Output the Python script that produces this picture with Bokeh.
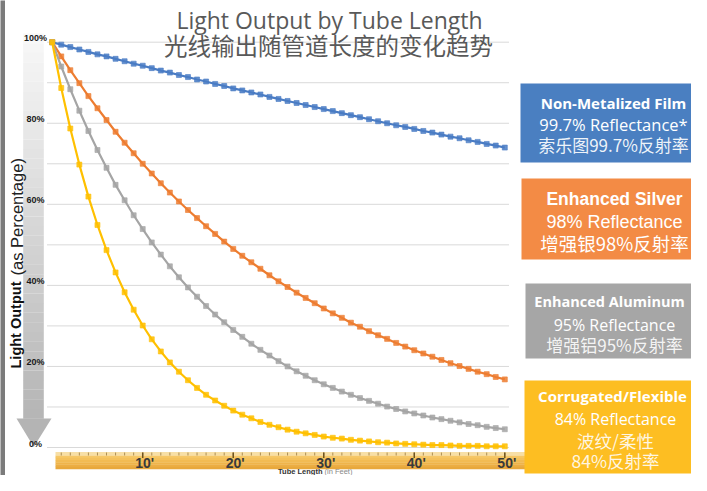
from bokeh.plotting import figure
from bokeh.models import Range1d
from bokeh.core.properties import value
from bokeh.embed import file_html
from bokeh.resources import INLINE

# ---------------- data ----------------
feet = list(range(0, 51))
non_metalized = [100, 99.4, 98.8, 98.2, 97.6, 97.0, 96.5, 95.9, 95.3, 94.7, 94.2,
                 93.6, 93.0, 92.5, 91.9, 91.4, 90.8, 90.3, 89.7, 89.2, 88.6,
                 88.1, 87.6, 87.1, 86.5, 86.0, 85.5, 85.0, 84.5, 84.0, 83.5,
                 83.0, 82.5, 82.0, 81.5, 81.0, 80.5, 80.0, 79.5, 79.1, 78.6,
                 78.1, 77.7, 77.2, 76.7, 76.3, 75.8, 75.4, 74.9, 74.5, 74.0]
enhanced_silver = [100, 96.5, 93.1, 89.9, 86.7, 83.7, 80.8, 77.9, 75.2, 72.6, 70.0,
                   67.6, 65.2, 62.9, 60.7, 58.6, 56.6, 54.6, 52.7, 50.8, 49.0,
                   47.3, 45.7, 44.1, 42.5, 41.0, 39.6, 38.2, 36.9, 35.6, 34.3,
                   33.1, 32.0, 30.8, 29.8, 28.7, 27.7, 26.8, 25.8, 24.9, 24.0,
                   23.2, 22.4, 21.6, 20.8, 20.1, 19.4, 18.7, 18.1, 17.4, 16.8]
enhanced_aluminum = [100, 94.0, 88.4, 83.1, 78.1, 73.4, 69.0, 64.8, 61.0, 57.3, 53.9,
                     50.6, 47.6, 44.7, 42.0, 39.5, 37.2, 34.9, 32.8, 30.9, 29.0,
                     27.3, 25.6, 24.1, 22.7, 21.3, 20.0, 18.8, 17.7, 16.6, 15.6,
                     14.7, 13.8, 13.0, 12.2, 11.5, 10.8, 10.1, 9.5, 8.9, 8.4,
                     7.9, 7.4, 7.0, 6.6, 6.2, 5.8, 5.5, 5.1, 4.8, 4.5]
corrugated = [100, 88.7, 78.7, 69.8, 61.9, 54.9, 48.7, 43.2, 38.3, 34.0, 30.1,
              26.7, 23.7, 21.0, 18.7, 16.6, 14.7, 13.0, 11.6, 10.3, 9.1,
              8.1, 7.2, 6.3, 5.6, 5.0, 4.4, 3.9, 3.5, 3.1, 2.7,
              2.4, 2.2, 1.9, 1.7, 1.5, 1.3, 1.2, 1.0, 0.9, 0.8,
              0.7, 0.6, 0.6, 0.5, 0.4, 0.4, 0.4, 0.3, 0.3, 0.3]

y_ticks = [0, 20, 40, 60, 80, 100]
y_tick_labels = ["0%", "20%", "40%", "60%", "80%", "100%"]
grid_values = [0, 10, 20, 30, 40, 50, 60, 70, 80, 90, 100]
x_ticks = [10, 20, 30, 40, 50]
x_tick_labels = ["10'", "20'", "30'", "40'", "50'"]
ruler_minor = list(range(1, 51))

series_names = ["Non-Metalized Film", "Enhanced Silver", "Enhanced Aluminum", "Corrugated/Flexible"]
series_colors = ["#4A7CC4", "#ED7D31", "#A5A5A5", "#FFC000"]

title_en = "Light Output by Tube Length"
title_zh = "光线输出随管道长度的变化趋势"

# ---------------- layout helpers (pixel -> data) ----------------
W, H = 691, 475
X0, XS = 51.7, 9.052   # pixel of 0 ft, pixels per ft
Y0, YS = 447.0, 4.053  # pixel of 0 %, pixels per %


def dx(px):
    return (px - X0) / XS


def dy(py):
    return (Y0 - py) / YS


p = figure(width=W, height=H, output_backend="svg", toolbar_location=None,
           x_range=Range1d(dx(0), dx(W)), y_range=Range1d(dy(H), dy(0)),
           x_axis_location=None, y_axis_location=None, min_border=0)
p.outline_line_color = None
p.grid.visible = False
p.background_fill_color = "white"
p.border_fill_color = "white"


def txt(px, py, s, font, size, color="white", style="normal", align="center",
        baseline="middle", angle=0.0, alpha=1.0):
    p.text(x=[dx(px)], y=[dy(py)], text=[s], text_font=value(font),
           text_font_size=value(f"{size}px"), text_font_style=style,
           text_color=color, text_align=align, text_baseline=baseline,
           angle=angle, text_alpha=alpha)


# ---------------- left dark strip ----------------
p.quad(left=dx(-2), right=dx(4.5), top=dy(-2), bottom=dy(H + 2),
       fill_color="#7b7b7b", line_color=None)

# ---------------- gray arrow on the left ----------------
n_strips = 40
top_px, bot_px = 33.0, 418.0
for i in range(n_strips):
    t = i / (n_strips - 1)
    c = int(248 - t * 66)
    y1 = top_px + (bot_px - top_px) * i / n_strips
    y2 = top_px + (bot_px - top_px) * (i + 1) / n_strips
    p.quad(left=dx(22.7), right=dx(43.3), top=dy(y1), bottom=dy(y2) - 0.05,
           fill_color=f"#{c:02x}{c:02x}{c:02x}", line_color=None)
p.patch(x=[dx(16), dx(51), dx(33.3)], y=[dy(418), dy(418), dy(446.5)],
        fill_color="#b4b4b4", line_color=None)

# ---------------- grid lines ----------------
p.segment(x0=[dx(46.5)] * len(grid_values), x1=[dx(508.5)] * len(grid_values),
          y0=grid_values, y1=grid_values, line_color="#d9d9d9", line_width=1)

# ---------------- ruler ----------------
p.quad(left=dx(55), right=dx(530), top=dy(451.5), bottom=dy(455.0),
       fill_color="#f7dfa6", line_color=None)
ruler_cols = ["#f6c766", "#f4c15c", "#f2bb53", "#efb44a", "#ecae43", "#e8a83c"]
band_top, band_bot = 455.0, 468.5
for i, c in enumerate(ruler_cols):
    y1 = band_top + (band_bot - band_top) * i / len(ruler_cols)
    y2 = band_top + (band_bot - band_top) * (i + 1) / len(ruler_cols)
    p.quad(left=dx(55), right=dx(530), top=dy(y1), bottom=dy(y2) - 0.05,
           fill_color=c, line_color=None)
p.segment(x0=ruler_minor, x1=ruler_minor, y0=[dy(452)] * len(ruler_minor),
          y1=[dy(455)] * len(ruler_minor), line_color="#9a7a40", line_width=1, line_alpha=0.8)
p.segment(x0=x_ticks, x1=x_ticks, y0=[dy(452)] * len(x_ticks),
          y1=[dy(457.5)] * len(x_ticks), line_color="#6e5320", line_width=1.5)
for xv, lab in zip(x_ticks, x_tick_labels):
    p.text(x=[xv], y=[dy(462)], text=[lab], text_font=value("Liberation Sans"),
           text_font_size=value("14px"), text_font_style="bold", text_color="#3a3a3a",
           text_align="center", text_baseline="middle", x_offset=2)
txt(322, 475, "Tube Length", "Liberation Sans", 7.5, color="#333333", style="bold",
    align="right", baseline="bottom")
txt(324, 475, "(in Feet)", "Liberation Sans", 7.5, color="#888888",
    align="left", baseline="bottom")

# ---------------- series ----------------
for ys, col in zip([non_metalized, enhanced_silver, enhanced_aluminum, corrugated], series_colors):
    p.line(feet, ys, line_color=col, line_width=2.2)
    p.scatter(feet, ys, marker="square", size=5, fill_color=col, line_color=col,
              fill_alpha=0.85, line_alpha=0.6)

# ---------------- y tick labels ----------------
for yv, lab in zip(y_ticks, y_tick_labels):
    p.text(x=[dx(35)], y=[yv], text=[lab], text_font=value("Liberation Sans"),
           text_font_size=value("9px"), text_font_style="bold", text_color="#1a1a1a",
           text_align="center", text_baseline="middle", y_offset=-4)

# ---------------- y axis title ----------------
txt(15.5, 368, "Light Output", "Liberation Sans", 14.5, color="#111111", style="bold",
    align="left", angle=1.5707963)
txt(16, 275, "(as Percentage)", "Liberation Sans", 16.5, color="#222222",
    align="left", angle=1.5707963)

# ---------------- titles ----------------
txt(329, 19, title_en, "Open Sans", 23, color="#595959")
txt(328, 44, title_zh, "Noto Sans CJK SC", 23.5, color="#595959")

# ---------------- legend boxes ----------------
boxes = [(520, 83, 162, "#4A7FC1"), (521, 178, 259, "#F38B45"),
         (525, 283, 358, "#A6A6A6"), (524, 380, 473, "#FDBE22")]
for left, top, bot, col in boxes:
    p.quad(left=dx(left), right=dx(712), top=dy(top), bottom=dy(bot),
           fill_color=col, line_color=None)

txt(613, 102.5, series_names[0], "Open Sans", 15, style="bold")
txt(613, 123.5, "99.7% Reflectance*", "Open Sans", 16.5)
txt(613, 144, "索乐图99.7%反射率", "Noto Sans CJK SC", 17, alpha=0.92)

txt(614, 198, series_names[1], "Liberation Sans", 17.5, style="bold")
txt(614, 221.5, "98% Reflectance", "Liberation Sans", 18)
txt(614, 242, "增强银98%反射率", "Noto Sans CJK SC", 18.5)

txt(609, 301, series_names[2], "Open Sans", 14.5, style="bold")
txt(614, 324, "95% Reflectance", "Open Sans", 16)
txt(614, 344, "增强铝95%反射率", "Noto Sans CJK SC", 17, alpha=0.9)

txt(612, 395, series_names[3], "Open Sans", 15, style="bold")
txt(615, 418, "84% Reflectance", "Open Sans", 16)
txt(615, 440, "波纹/柔性", "Noto Sans CJK SC", 17.5, alpha=0.88)
txt(615, 460, "84%反射率", "Noto Sans CJK SC", 17.5, alpha=0.88)

open("out.html", "w").write(file_html(p, INLINE))
